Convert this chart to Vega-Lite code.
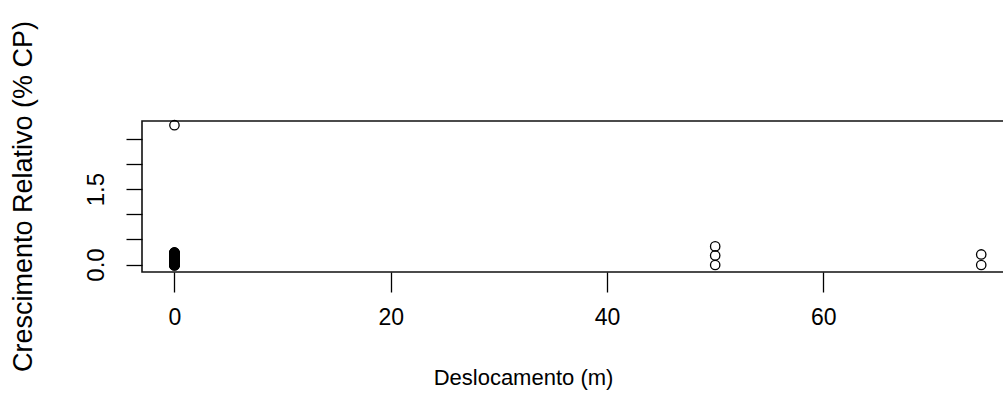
{
  "$schema": "https://vega.github.io/schema/vega-lite/v6.json",
  "width": 876,
  "height": 151,
  "autosize": {"type": "none"},
  "padding": {"left": 142, "top": 121, "right": 0, "bottom": 135},
  "background": "white",
  "config": {"view": {"stroke": "#111", "strokeWidth": 1.6}, "font": "Liberation Sans"},
  "data": {
    "values": [
      {"deslocamento": 0, "crescimento": 2.77},
      {"deslocamento": 0, "crescimento": -0.02},
      {"deslocamento": 0, "crescimento": -0.015},
      {"deslocamento": 0, "crescimento": -0.01},
      {"deslocamento": 0, "crescimento": -0.005},
      {"deslocamento": 0, "crescimento": 0.0},
      {"deslocamento": 0, "crescimento": 0.005},
      {"deslocamento": 0, "crescimento": 0.01},
      {"deslocamento": 0, "crescimento": 0.015},
      {"deslocamento": 0, "crescimento": 0.02},
      {"deslocamento": 0, "crescimento": 0.025},
      {"deslocamento": 0, "crescimento": 0.03},
      {"deslocamento": 0, "crescimento": 0.035},
      {"deslocamento": 0, "crescimento": 0.04},
      {"deslocamento": 0, "crescimento": 0.045},
      {"deslocamento": 0, "crescimento": 0.05},
      {"deslocamento": 0, "crescimento": 0.055},
      {"deslocamento": 0, "crescimento": 0.06},
      {"deslocamento": 0, "crescimento": 0.065},
      {"deslocamento": 0, "crescimento": 0.07},
      {"deslocamento": 0, "crescimento": 0.075},
      {"deslocamento": 0, "crescimento": 0.08},
      {"deslocamento": 0, "crescimento": 0.085},
      {"deslocamento": 0, "crescimento": 0.09},
      {"deslocamento": 0, "crescimento": 0.095},
      {"deslocamento": 0, "crescimento": 0.1},
      {"deslocamento": 0, "crescimento": 0.105},
      {"deslocamento": 0, "crescimento": 0.11},
      {"deslocamento": 0, "crescimento": 0.115},
      {"deslocamento": 0, "crescimento": 0.12},
      {"deslocamento": 0, "crescimento": 0.125},
      {"deslocamento": 0, "crescimento": 0.13},
      {"deslocamento": 0, "crescimento": 0.135},
      {"deslocamento": 0, "crescimento": 0.14},
      {"deslocamento": 0, "crescimento": 0.145},
      {"deslocamento": 0, "crescimento": 0.15},
      {"deslocamento": 0, "crescimento": 0.155},
      {"deslocamento": 0, "crescimento": 0.16},
      {"deslocamento": 0, "crescimento": 0.165},
      {"deslocamento": 0, "crescimento": 0.17},
      {"deslocamento": 0, "crescimento": 0.175},
      {"deslocamento": 0, "crescimento": 0.18},
      {"deslocamento": 0, "crescimento": 0.185},
      {"deslocamento": 0, "crescimento": 0.19},
      {"deslocamento": 0, "crescimento": 0.195},
      {"deslocamento": 0, "crescimento": 0.2},
      {"deslocamento": 0, "crescimento": 0.205},
      {"deslocamento": 0, "crescimento": 0.21},
      {"deslocamento": 0, "crescimento": 0.215},
      {"deslocamento": 0, "crescimento": 0.22},
      {"deslocamento": 0, "crescimento": 0.225},
      {"deslocamento": 0, "crescimento": 0.23},
      {"deslocamento": 0, "crescimento": 0.235},
      {"deslocamento": 0, "crescimento": 0.24},
      {"deslocamento": 50, "crescimento": 0.36},
      {"deslocamento": 50, "crescimento": 0.18},
      {"deslocamento": 50, "crescimento": -0.01},
      {"deslocamento": 74.6, "crescimento": 0.2},
      {"deslocamento": 74.6, "crescimento": -0.01}
    ]
  },
  "mark": {"type": "point", "shape": "circle", "filled": false, "color": "black", "size": 88, "strokeWidth": 1.3, "opacity": 1, "clip": false},
  "encoding": {
    "x": {
      "field": "deslocamento",
      "type": "quantitative",
      "scale": {"domain": [-3, 78], "nice": false, "zero": false},
      "axis": {
        "title": "Deslocamento (m)",
        "values": [0, 20, 40, 60],
        "domain": false,
        "grid": false,
        "tickSize": 20,
        "tickColor": "#000",
        "tickWidth": 1.3,
        "labelFontSize": 23,
        "labelColor": "#000",
        "labelBaseline": "middle",
        "labelPadding": 25,
        "labelFlush": false,
        "labelOverlap": false,
        "titleFontSize": 22,
        "titleFontWeight": "normal",
        "titleColor": "#000",
        "titleX": 381,
        "titleY": 105,
        "titleAlign": "center",
        "titleBaseline": "middle"
      }
    },
    "y": {
      "field": "crescimento",
      "type": "quantitative",
      "scale": {"domain": [-0.149, 2.853], "nice": false, "zero": false},
      "axis": {
        "title": "Crescimento Relativo (% CP)",
        "values": [0, 0.5, 1, 1.5, 2, 2.5],
        "labelExpr": "datum.value == 0 || datum.value == 1.5 ? format(datum.value, '.1f') : ''",
        "domain": false,
        "grid": false,
        "tickSize": 16,
        "tickColor": "#000",
        "tickWidth": 1.3,
        "labelAngle": -90,
        "labelAlign": "center",
        "labelBaseline": "bottom",
        "labelPadding": 18,
        "labelFontSize": 24,
        "labelColor": "#000",
        "labelOverlap": false,
        "labelFlush": false,
        "titleFontSize": 27,
        "titleFontWeight": "normal",
        "titleColor": "#000",
        "titleAngle": -90,
        "titleX": -119,
        "titleY": 75,
        "titleAlign": "center",
        "titleBaseline": "middle"
      }
    }
  }
}
